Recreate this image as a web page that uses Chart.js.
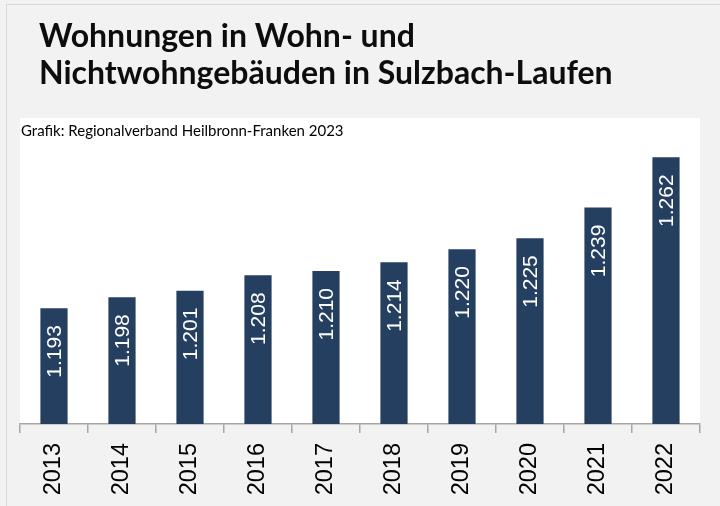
<!DOCTYPE html>
<html>
<head>
<meta charset="utf-8">
<script src="https://cdn.jsdelivr.net/npm/chart.js@4.4.1/dist/chart.umd.min.js"></script>
<style>
  html, body { margin: 0; padding: 0; background: #f2f2f2; }
  #wrap { width: 720px; height: 506px; }
</style>
</head>
<body>
<div id="wrap"><canvas id="chart" width="720" height="506"></canvas></div>
<script>
// Daten
const years = ["2013", "2014", "2015", "2016", "2017", "2018", "2019", "2020", "2021", "2022"];
const flats = [1193, 1198, 1201, 1208, 1210, 1214, 1220, 1225, 1239, 1262];
const titleLines = ["Wohnungen in Wohn- und", "Nichtwohngebäuden in Sulzbach-Laufen"];
const sourceText = "Grafik: Regionalverband Heilbronn-Franken 2023";

// Hintergrund, Rahmen, weisse Fläche und Titel
const backgroundPlugin = {
    id: "background",
    beforeDraw(chart) {
        const ctx = chart.ctx;
        const area = chart.chartArea;
        ctx.save();
        ctx.fillStyle = "#f2f2f2";
        ctx.fillRect(0, 0, chart.width, chart.height);
        ctx.strokeStyle = "#d9d9d9";
        ctx.lineWidth = 1;
        ctx.strokeRect(6.5, 4.5, chart.width + 10, chart.height + 10);
        ctx.fillStyle = "#ffffff";
        ctx.fillRect(area.left, area.top, area.right - area.left, area.bottom - area.top);

        ctx.fillStyle = "#0d0d0d";
        ctx.font = "bold 32px Lato";
        ctx.textBaseline = "alphabetic";
        ctx.fillText(titleLines[0], 39, 47);
        ctx.fillText(titleLines[1], 39, 84);

        ctx.fillStyle = "#000000";
        ctx.font = "15px Lato";
        ctx.fillText(sourceText, 21, 136);
        ctx.restore();
    }
};

// Werte senkrecht in die Balken schreiben
const valueLabels = {
    id: "valueLabels",
    afterDatasetsDraw(chart) {
        const ctx = chart.ctx;
        const meta = chart.getDatasetMeta(0);
        ctx.save();
        ctx.fillStyle = "#ffffff";
        ctx.font = "21px 'Liberation Sans'";
        ctx.textAlign = "right";
        ctx.textBaseline = "middle";
        meta.data.forEach((bar, i) => {
            const txt = flats[i].toLocaleString("de-DE");
            ctx.save();
            ctx.translate(bar.x, bar.y + 17);
            ctx.rotate(-Math.PI / 2);
            ctx.fillText(txt, 0, 1);
            ctx.restore();
        });
        ctx.restore();
    }
};

const ctx = document.getElementById("chart").getContext("2d");
new Chart(ctx, {
    type: "bar",
    data: {
        labels: years,
        datasets: [
            {
                data: flats,
                backgroundColor: "#253f60",
                borderWidth: 0,
                barPercentage: 0.4,
                categoryPercentage: 1.0,
            },
        ],
    },
    options: {
        responsive: false,
        animation: false,
        layout: {
            padding: { left: 20, right: 20, top: 118, bottom: 0 },
        },
        scales: {
            x: {
                afterFit(scale) {
                    scale.height = 82;
                },
                grid: {
                    drawOnChartArea: false,
                    drawTicks: true,
                    tickLength: 9,
                    color: "#a6a6a6",
                    lineWidth: 1.5,
                },
                border: { display: true, color: "#a6a6a6", width: 1.5 },
                ticks: {
                    minRotation: 90,
                    maxRotation: 90,
                    padding: 10,
                    color: "#000000",
                    font: { family: "'Liberation Sans'", size: 23.5 },
                },
            },
            y: {
                display: false,
                min: 1140,
                max: 1280,
            },
        },
        plugins: {
            legend: { display: false },
            title: { display: false },
            tooltip: { enabled: false },
        },
    },
    plugins: [backgroundPlugin, valueLabels],
});
</script>
</body>
</html>
